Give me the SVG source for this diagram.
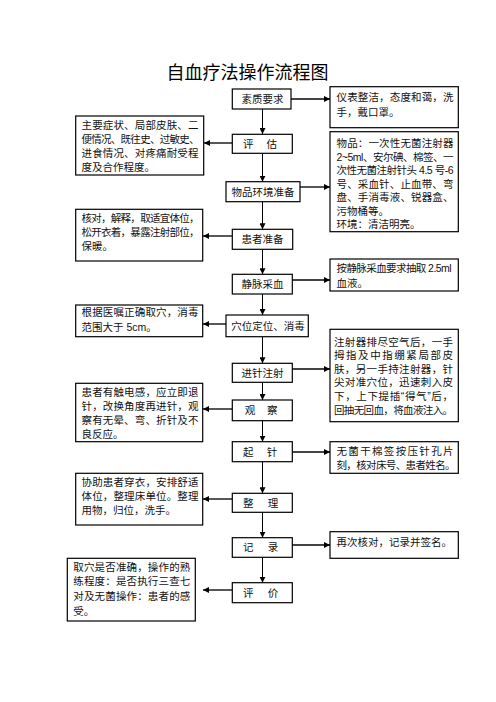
<svg xmlns="http://www.w3.org/2000/svg" width="496" height="702" viewBox="0 0 496 702">
<defs>
<style>
text{font-family:"Liberation Sans","Noto Sans CJK SC",sans-serif;font-size:10.5px;fill:#111}
.t{font-size:18px;font-family:"Noto Sans CJK SC",sans-serif;fill:#000}
.c{text-anchor:middle}
rect{fill:#fff;stroke:#000;stroke-width:1.2}
.v{stroke:#000;stroke-width:1;fill:none}
.h{stroke:#444;stroke-width:1.8;fill:none}
</style>
<marker id="ah" markerUnits="userSpaceOnUse" markerWidth="6" markerHeight="6" refX="6" refY="3" orient="auto">
<path d="M0,0 L6,3 L0,6 z" fill="#000"/>
</marker>
</defs>
<rect x="0" y="0" width="496" height="702" style="stroke:none"/>
<text class="t c" x="247.5" y="79">自血疗法操作流程图</text>

<g id="connectors">
<path class="v" d="M262.5,109 V134" marker-end="url(#ah)"/>
<path class="v" d="M262.5,153.3 V181.7" marker-end="url(#ah)"/>
<path class="v" d="M262.5,201.7 V229.3" marker-end="url(#ah)"/>
<path class="v" d="M262.5,249.3 V274.3" marker-end="url(#ah)"/>
<path class="v" d="M262.5,294 V315" marker-end="url(#ah)"/>
<path class="v" d="M262.5,336.7 V363.3" marker-end="url(#ah)"/>
<path class="v" d="M262.5,382.3 V400" marker-end="url(#ah)"/>
<path class="v" d="M262.5,420.7 V441.7" marker-end="url(#ah)"/>
<path class="v" d="M262.5,461.7 V493.3" marker-end="url(#ah)"/>
<path class="v" d="M262.5,512.3 V537.7" marker-end="url(#ah)"/>
<path class="v" d="M262.5,557.3 V582.7" marker-end="url(#ah)"/>
<path class="h" d="M291,99 H330" marker-end="url(#ah)"/>
<path class="h" d="M232,143 H204" marker-end="url(#ah)"/>
<path class="h" d="M300,187 H330" marker-end="url(#ah)"/>
<path class="h" d="M232,236 H203" marker-end="url(#ah)"/>
<path class="h" d="M292,280 H330" marker-end="url(#ah)"/>
<path class="h" d="M226,324 H203" marker-end="url(#ah)"/>
<path class="h" d="M292,369 H330" marker-end="url(#ah)"/>
<path class="h" d="M232,409 H203" marker-end="url(#ah)"/>
<path class="h" d="M292,452 H330" marker-end="url(#ah)"/>
<path class="h" d="M232,499 H203" marker-end="url(#ah)"/>
<path class="h" d="M292,545 H330" marker-end="url(#ah)"/>
<path class="h" d="M232,590 H203" marker-end="url(#ah)"/>
</g>

<g id="n1"><rect x="232.3" y="89" width="58.7" height="20"/><text class="c" x="262.5" y="103">素质要求</text></g>
<g id="n2"><rect x="232.3" y="134.3" width="60" height="19"/><text class="c" x="248.3 271.7" y="147.6">评估</text></g>
<g id="n3"><rect x="226" y="181.7" width="74" height="20"/><text class="c" x="263" y="195.5">物品环境准备</text></g>
<g id="n4"><rect x="232.3" y="229.3" width="60.4" height="20"/><text class="c" x="262.5" y="243">患者准备</text></g>
<g id="n5"><rect x="232.3" y="274.3" width="60" height="19.7"/><text class="c" x="262.5" y="288">静脉采血</text></g>
<g id="n6"><rect x="226" y="315" width="82.3" height="21.7"/><text class="c" x="268" y="329.6">穴位定位、消毒</text></g>
<g id="n7"><rect x="232.3" y="363.3" width="60" height="19"/><text class="c" x="262.5" y="376.6">进针注射</text></g>
<g id="n8"><rect x="232.3" y="400" width="60" height="20.7"/><text class="c" x="250 272.3" y="414">观察</text></g>
<g id="n9"><rect x="232.3" y="441.7" width="60" height="20"/><text class="c" x="248.3 272" y="455.5">起针</text></g>
<g id="n10"><rect x="232.3" y="493.3" width="60" height="19"/><text class="c" x="248.3 273" y="506.6">整理</text></g>
<g id="n11"><rect x="232.3" y="537.7" width="60" height="19.6"/><text class="c" x="248.3 273" y="551.3">记录</text></g>
<g id="n12"><rect x="232.3" y="582.7" width="60" height="20"/><text class="c" x="248.3 273" y="596.5">评价</text></g>

<g id="l1"><rect x="75.7" y="116" width="128" height="59"/>
<text x="81.5" y="128.8" textLength="117" lengthAdjust="spacing">主要症状、局部皮肤、二</text>
<text x="81.5" y="142.8" textLength="118" lengthAdjust="spacing">便情况、既往史、过敏史、</text>
<text x="81.5" y="156.8" textLength="117" lengthAdjust="spacing">进食情况、对疼痛耐受程</text>
<text x="81.5" y="170.6">度及合作程度。</text></g>

<g id="l2"><rect x="75.7" y="209.3" width="127" height="51.7"/>
<text x="81.5" y="222.3" textLength="118" lengthAdjust="spacing">核对，解释，取适宜体位，</text>
<text x="81.5" y="236.3" textLength="118" lengthAdjust="spacing">松开衣着，暴露注射部位，</text>
<text x="81.5" y="250.3">保暖。</text></g>

<g id="l3"><rect x="75.7" y="305" width="127" height="31.7"/>
<text x="81.5" y="316.3" textLength="117" lengthAdjust="spacing">根据医嘱正确取穴，消毒</text>
<text x="81.5" y="330.6">范围大于 5cm。</text></g>

<g id="l4"><rect x="75.7" y="383.3" width="127" height="58.4"/>
<text x="81.5" y="396.2" textLength="117" lengthAdjust="spacing">患者有触电感，应立即退</text>
<text x="81.5" y="410.2" textLength="117" lengthAdjust="spacing">针，改换角度再进针，观</text>
<text x="81.5" y="424.2" textLength="117" lengthAdjust="spacing">察有无晕、弯、折针及不</text>
<text x="81.5" y="438">良反应。</text></g>

<g id="l5"><rect x="75.7" y="473.3" width="127" height="51.7"/>
<text x="81.5" y="486.3" textLength="117" lengthAdjust="spacing">协助患者穿衣，安排舒适</text>
<text x="81.5" y="500.3" textLength="117" lengthAdjust="spacing">体位，整理床单位。整理</text>
<text x="81.5" y="514.3">用物，归位，洗手。</text></g>

<g id="l6"><rect x="67.3" y="558.3" width="128" height="62.7"/>
<text x="73.3" y="570.6" textLength="117" lengthAdjust="spacing">取穴是否准确，操作的熟</text>
<text x="73.3" y="585.4" textLength="117" lengthAdjust="spacing">练程度：是否执行三查七</text>
<text x="73.3" y="600.2" textLength="117" lengthAdjust="spacing">对及无菌操作：患者的感</text>
<text x="73.3" y="615">受。</text></g>

<g id="r1"><rect x="330" y="86.7" width="128.3" height="41"/>
<text x="336.5" y="101.3" textLength="117" lengthAdjust="spacing">仪表整洁，态度和蔼，洗</text>
<text x="336.5" y="116">手，戴口罩。</text></g>

<g id="r2"><rect x="330" y="131.7" width="128.3" height="100"/>
<text x="336.5" y="147" textLength="117" lengthAdjust="spacing">物品：一次性无菌注射器</text>
<text x="336.5" y="160.5" textLength="117" lengthAdjust="spacing">2~5ml、安尔碘、棉签、一</text>
<text x="336.5" y="174" textLength="117" lengthAdjust="spacing">次性无菌注射针头 4.5 号-6</text>
<text x="336.5" y="187.5" textLength="117" lengthAdjust="spacing">号、采血针、止血带、弯</text>
<text x="336.5" y="201" textLength="117" lengthAdjust="spacing">盘、手消毒液、锐器盒、</text>
<text x="336.5" y="214.5">污物桶等。</text>
<text x="336.5" y="228">环境：清洁明亮。</text></g>

<g id="r3"><rect x="330" y="259" width="128.3" height="32"/>
<text x="336.5" y="272" textLength="115" lengthAdjust="spacing">按静脉采血要求抽取 2.5ml</text>
<text x="336.5" y="287">血液。</text></g>

<g id="r4"><rect x="330" y="329.3" width="128.3" height="92.4"/>
<text x="334" y="345.6" textLength="119" lengthAdjust="spacing">注射器排尽空气后，一手</text>
<text x="334" y="359.2" textLength="119" lengthAdjust="spacing">拇指及中指绷紧局部皮</text>
<text x="334" y="372.8" textLength="119" lengthAdjust="spacing">肤，另一手持注射器，针</text>
<text x="334" y="386.4" textLength="119" lengthAdjust="spacing">尖对准穴位，迅速刺入皮</text>
<text x="334" y="400" textLength="119" lengthAdjust="spacing">下，上下提插“得气”后，</text>
<text x="334" y="413.6" textLength="119" lengthAdjust="spacing">回抽无回血，将血液注入。</text></g>

<g id="r5"><rect x="330" y="441.7" width="128.3" height="31.6"/>
<text x="336.5" y="454.5" textLength="117" lengthAdjust="spacing">无菌干棉签按压针孔片</text>
<text x="336.5" y="468.5" textLength="119" lengthAdjust="spacing">刻，核对床号、患者姓名。</text></g>

<g id="r6"><rect x="330" y="531.7" width="128.3" height="26.6"/>
<text x="336.5" y="545.5">再次核对，记录并签名。</text></g>
</svg>
